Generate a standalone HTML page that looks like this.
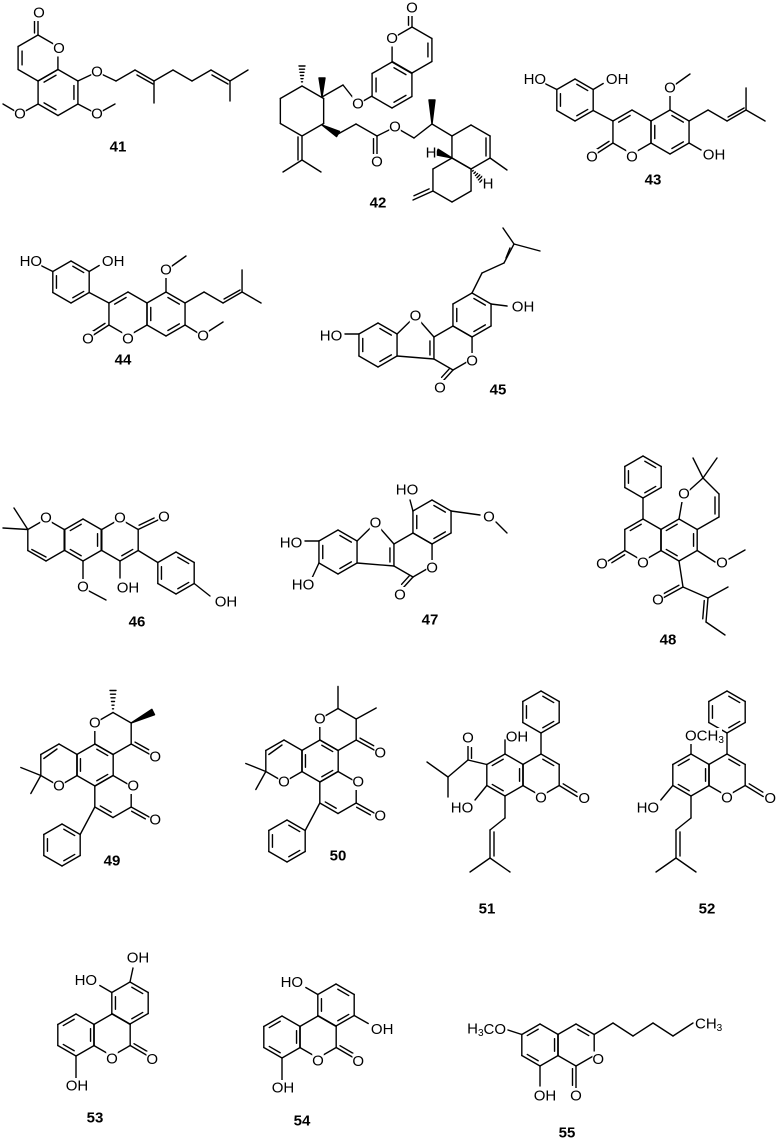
<!DOCTYPE html>
<html><head><meta charset="utf-8">
<style>
html,body{margin:0;padding:0;background:#fff;}
svg{display:block;}
text{font-family:"Liberation Sans",Arial,sans-serif;fill:#000;}
.a{font-size:15px;}
.n{font-size:15px;font-weight:bold;}
</style></head>
<body>
<svg id="g" width="777" height="1141" viewBox="0 0 777 1141" xmlns="http://www.w3.org/2000/svg">
<g id="b" stroke="#000" stroke-width="1.4" fill="none" stroke-linecap="round" stroke-linejoin="round"></g>
<g id="m" fill="#fff" stroke="none"></g>
<g id="t"></g>
</svg>
<script>
var NS="http://www.w3.org/2000/svg",B=document.getElementById('b'),M=document.getElementById('m'),TT=document.getElementById('t');
function el(p,n,a){var e=document.createElementNS(NS,n);for(var k in a)e.setAttribute(k,a[k]);p.appendChild(e);return e;}
function L(x1,y1,x2,y2){el(B,'line',{x1:x1,y1:y1,x2:x2,y2:y2});}
function P(pts){for(var i=0;i<pts.length-1;i++)L(pts[i][0],pts[i][1],pts[i+1][0],pts[i+1][1]);}
function D(x1,y1,x2,y2,side){side=side||1;var dx=x2-x1,dy=y2-y1,l=Math.hypot(dx,dy),nx=-dy/l*3.5*side,ny=dx/l*3.5*side;L(x1,y1,x2,y2);L(x1+nx+dx*0.12,y1+ny+dy*0.12,x2+nx-dx*0.12,y2+ny-dy*0.12);}
function W(x1,y1,x2,y2){var dx=x2-x1,dy=y2-y1,l=Math.hypot(dx,dy);if(!l)return;var nx=-dy/l*3,ny=dx/l*3;el(B,'polygon',{points:x1+','+y1+' '+(x2+nx)+','+(y2+ny)+' '+(x2-nx)+','+(y2-ny),fill:'#000'});}
function HS(x1,y1,x2,y2){var dx=x2-x1,dy=y2-y1,l=Math.hypot(dx,dy),nx=-dy/l,ny=dx/l;for(var i=1;i<=6;i++){var f=i/6,w=3*f;L(x1+dx*f+nx*w,y1+dy*f+ny*w,x1+dx*f-nx*w,y1+dy*f-ny*w);}}
function H(cx,cy,r,d){var v=[],i;for(i=0;i<6;i++){var a=(-90+60*i)*Math.PI/180;v.push([cx+r*Math.cos(a),cy+r*Math.sin(a)]);}
for(i=0;i<6;i++){var p=v[i],q=v[(i+1)%6];L(p[0],p[1],q[0],q[1]);}
(d||[]).forEach(function(i){var p=v[i],q=v[(i+1)%6],f=0.2;L(p[0]+(cx-p[0])*f+(q[0]-p[0])*0.1,p[1]+(cy-p[1])*f+(q[1]-p[1])*0.1,q[0]+(cx-q[0])*f-(q[0]-p[0])*0.1,q[1]+(cy-q[1])*f-(q[1]-p[1])*0.1);});return v;}
function mask(x,y,w,anchor){var x0=anchor=='end'?x-w:anchor=='start'?x:x-w/2;el(M,'rect',{x:x0-1,y:y-8,width:w+2,height:16});}
function T(x,y,s,anchor){anchor=anchor||'middle';mask(x,y,s.length*9.5,anchor);var e=el(TT,'text',{x:x,y:y,'class':'a','text-anchor':anchor,'dominant-baseline':'central'});e.textContent=s;return e;}
function N(x,y,s){var e=el(TT,'text',{x:x,y:y,'class':'n','text-anchor':'middle','dominant-baseline':'central'});e.textContent=s;}
function Sub(x,y,pre,sub,post,anchor){var len=pre.length*10+sub.length*6+post.length*10;mask(x,y,len,anchor);
var e=el(TT,'text',{x:x,y:y,'class':'a','text-anchor':anchor||'middle','dominant-baseline':'central'});
e.appendChild(document.createTextNode(pre));var t=el(e,'tspan',{'font-size':'10','dy':'4'});t.textContent=sub;if(post){var u=el(e,'tspan',{'dy':'-4'});u.textContent=post;}}

/* ===== 41 ===== */
(function(){var A=H(38,58,23,[4]);var Bv=H(58,92.5,23,[1,3,5]);
D(A[0][0],A[0][1],38,18,-1);T(39,13,'O');T(A[1][0]+1,A[1][1]+2,'O');
L(Bv[1][0],Bv[1][1],97,72);T(97,72,'O');
P([[97,72],[116,81],[135,70],[154,81],[173,70],[192,81],[211,70],[230,81],[248,70]]);
L(137,75,153,84);L(154,81,154,103);L(212,75,228,84);L(230,81,230,101);
L(Bv[2][0],Bv[2][1],97,114);T(97,114,'O');L(97,114,115,104);
L(Bv[4][0],Bv[4][1],20,114);T(20,114,'O');L(20,114,3,104);
N(118,147,'41');})();

/* ===== 42 ===== */
(function(){H(302,111,25,[]);
W(322,97,322,78);
HS(302,85,302,66);
L(302,137,302,160);L(298,137,298,160);L(302,160,283,172);L(302,160,321,172);
L(322,97,343,85);L(343,85,358,104);T(358,104,'O');L(358,104,372,96);
var Pv=H(412,50,23,[1]);H(392,85,23,[0,2,4]);
T(Pv[5][0],Pv[5][1],'O');D(Pv[0][0],Pv[0][1],412,12,-1);T(412,8,'O');
W(322,125,338,134);P([[338,134],[356,124],[377,136]]);D(377,136,377,158);T(377,162,'O');
L(377,136,395,127);T(395,127,'O');L(395,127,414,138);L(414,138,432,124);W(432,124,432,100);L(432,124,452,136);
var Rt=H(471,147,22,[]);var Lt=H(452,180,22,[]);
L(486,138,486,156);
L(Rt[2][0],Rt[2][1],507,170);
D(Lt[4][0],Lt[4][1],413,200);
W(452,158,437,152);T(431,153,'H');HS(471,169,482,180);T(488,184,'H');
N(378,203,'42');})();

/* ===== 43/44 coumarin template ===== */
function C43(dx,dy,v){
var R=H(575+dx,100+dy,21,[0,2,4]);var Pp=H(632+dx,132+dy,22,[5]);var Bb=H(670+dx,132+dy,22,[0,2,4]);
L(R[2][0],R[2][1],Pp[5][0],Pp[5][1]);
L(R[5][0],R[5][1],R[5][0]-12,R[5][1]-6);T(R[5][0]-22,R[5][1]-10,'HO');
L(R[1][0],R[1][1],R[1][0]+10,R[1][1]-6);T(R[1][0]+24,R[1][1]-10,'OH');
T(Pp[3][0],Pp[3][1]+3,'O');D(Pp[4][0],Pp[4][1],Pp[4][0]-17,Pp[4][1]+11,1);T(Pp[4][0]-21,Pp[4][1]+14,'O');
L(Bb[0][0],Bb[0][1],Bb[0][0],Bb[0][1]-18);T(Bb[0][0],Bb[0][1]-22,'O');L(Bb[0][0]+6,Bb[0][1]-26,Bb[0][0]+20,Bb[0][1]-36);
var x=Bb[1][0],y=Bb[1][1];P([[x,y],[x+19,y-11],[x+38,y],[x+57,y-11]]);L(x+39,y-4,x+55,y-13);L(x+57,y-11,x+57,y-33);L(x+57,y-11,x+76,y);
if(v==43){L(Bb[2][0],Bb[2][1],Bb[2][0]+12,Bb[2][1]+7);T(Bb[2][0]+25,Bb[2][1]+12,'OH');}
else{L(Bb[2][0],Bb[2][1],Bb[2][0]+13,Bb[2][1]+8);T(Bb[2][0]+18,Bb[2][1]+11,'O');L(Bb[2][0]+24,Bb[2][1]+6,Bb[2][0]+38,Bb[2][1]-3);}
}
C43(0,0,43);N(653,180,'43');
C43(-504,182,44);N(123,360,'44');

/* ===== coumestan template (45/47) ===== */
function CM(dx,dy,v){
var Lb=H(338+dx,552+dy,22,[0,2,4]);
L(Lb[5][0],Lb[5][1],305+dx,541+dy);T(291+dx,543+dy,'HO');
if(v==47){L(Lb[4][0],Lb[4][1],312+dx,578+dy);T(303+dx,585+dy,'HO');}
var La=H(413+dx,555+dy,22,[]);
var ox=(Lb[1][0]+La[5][0])/2,oy=Math.min(Lb[1][1],La[5][1])-18;
P([[Lb[1][0],Lb[1][1]],[ox,oy],[La[5][0],La[5][1]]]);
L(Lb[2][0],Lb[2][1],La[4][0],La[4][1]);
L(La[5][0]-4,La[5][1]+4,La[4][0]-4,La[4][1]-4);
T(ox,oy,'O');
T(La[2][0],La[2][1]+2,'O');D(La[3][0],La[3][1],403+dx,588+dy,1);T(400+dx,595+dy,'O');
var Rr=H(432+dx,522+dy,22,[0,2,4]);
return Rr;}
(function(){var Rr=CM(40,-207,45);
L(Rr[1][0],Rr[1][1],Rr[1][0]+16,Rr[1][1]+2);T(Rr[1][0]+32,Rr[1][1]+3,'OH');
P([[Rr[0][0],Rr[0][1]],[482,273],[504,263],[514,244]]);L(506,258,510,248);L(514,244,540,251);L(514,244,503,228);
N(498,390,'45');})();
(function(){var Rr=CM(0,0,47);
L(Rr[5][0],Rr[5][1],410,500);T(407,490,'HO');
L(Rr[1][0],Rr[1][1],480,515);T(489,517,'O');L(496,522,507,533);
N(430,620,'47');})();

/* ===== 46 ===== */
(function(){var Py=H(46,540,21,[]);var Bz=H(83,540,21,[1,3,5]);var Pn=H(120,540,21,[2]);
T(Py[0][0],Py[0][1]-1,'O');L(Py[5][0],Py[5][1],14,508);L(Py[5][0],Py[5][1],3,528);L(Py[4][0]+4,Py[4][1]-1,Py[3][0],Py[3][1]-4);
T(Pn[0][0],Pn[0][1]-1,'O');D(Pn[1][0],Pn[1][1],158,520,-1);T(164,517,'O');
L(Bz[3][0],Bz[3][1],Bz[3][0],580);T(Bz[3][0],587,'O');L(Bz[3][0]+6,591,106,600);
L(Pn[3][0],Pn[3][1],Pn[3][0],578);T(Pn[3][0]+8,588,'OH');
var Ph=H(176,573,21,[0,2,4]);L(Pn[2][0],Pn[2][1],Ph[5][0],Ph[5][1]);
L(Ph[2][0],Ph[2][1],210,596);T(226,602,'OH');
N(137,622,'46');})();

/* ===== 48 ===== */
(function(){var Pn=H(643,540,21,[5]);var Bz=H(679,540,21,[1,3,5]);
H(643,477,21,[0,2,4]);L(Pn[0][0],Pn[0][1],643,498);
D(Pn[4][0],Pn[4][1],608,561,-1);T(602,564,'O');T(Pn[3][0],Pn[3][1]+2,'O');
P([[Bz[0][0],Bz[0][1]],[683,496],[703,478],[719,494],[719,517],[Bz[1][0],Bz[1][1]]]);L(715,497,715,514);
T(684,494,'O');L(703,478,693,458);L(703,478,717,458);
L(Bz[2][0],Bz[2][1],715,562);T(722,563,'O');L(729,559,745,550);
L(Bz[3][0],Bz[3][1],683,587);D(683,587,663,598,1);T(658,600,'O');L(683,587,708,598);L(708,598,728,587);D(708,598,706,622,1);L(706,622,725,635);
N(668,640,'48');})();

/* ===== 49/50 ===== */
function C49(dx,dy,st){
H(95+dx,765+dy,21,[0,2,4]);
var K=H(113+dx,733.5+dy,21,[]);
var Lc=H(113+dx,796.5+dy,21,[3]);
var Ch=H(59+dx,765+dy,21,[]);
T(K[5][0],K[5][1],'O');
if(st){HS(K[0][0],K[0][1],K[0][0],K[0][1]-22);W(K[1][0],K[1][1],K[1][0]+22,K[1][1]-11);}
else{L(K[0][0],K[0][1],K[0][0],K[0][1]-22);L(K[1][0],K[1][1],K[1][0]+20,K[1][1]-11);}
D(K[2][0],K[2][1],K[2][0]+18,K[2][1]+10,-1);T(K[2][0]+24,K[2][1]+13,'O');
T(Lc[1][0]+2,Lc[1][1],'O');D(Lc[2][0],Lc[2][1],Lc[2][0]+18,Lc[2][1]+10,1);T(Lc[2][0]+24,Lc[2][1]+13,'O');
T(Ch[3][0],Ch[3][1],'O');L(Ch[4][0],Ch[4][1],Ch[4][0]-20,Ch[4][1]-8);L(Ch[4][0],Ch[4][1],Ch[4][0]-10,Ch[4][1]+18);
L(Ch[0][0]-2,Ch[0][1]+5,Ch[5][0]+3,Ch[5][1]+4);
var Ph=H(62+dx,845+dy,21,[0,2,4]);L(Lc[4][0],Lc[4][1],Ph[1][0],Ph[1][1]);
}
C49(0,0,true);N(112,861,'49');
C49(225,-4,false);N(338,856,'50');

/* ===== 51/52 ===== */
function C51(dx,v){
var Bz=H(505+dx,775,21,[1,3,5]);var Pn=H(541+dx,775,21,[0]);
H(541+dx,712,21,[0,2,4]);L(Pn[0][0],Pn[0][1],541+dx,733);
T(Pn[3][0],Pn[3][1]+2,'O');D(Pn[2][0],Pn[2][1],Pn[2][0]+18,Pn[2][1]+11,-1);T(Pn[2][0]+25,Pn[2][1]+13,'O');
L(Bz[3][0],Bz[3][1],Bz[3][0],818);P([[505+dx,818],[490+dx,830],[490+dx,858]]);L(494+dx,832,494+dx,856);L(490+dx,858,470+dx,872);L(490+dx,858,510+dx,872);
if(v==51){L(Bz[0][0],Bz[0][1],505,740);T(517,737,'OH');
L(Bz[5][0],Bz[5][1],468,760);D(468,760,468,746,1);T(468,738,'O');L(468,760,448,777);L(448,777,427,762);L(448,777,448,797);
L(Bz[4][0],Bz[4][1],475,800);T(462,808,'HO');}
else{L(Bz[0][0],Bz[0][1],Bz[0][0],742);Sub(Bz[0][0]-6,736,'OCH','3','','start');
L(Bz[4][0],Bz[4][1],Bz[4][0]-12,800);T(Bz[4][0]-25,808,'HO');}
}
C51(0,51);N(487,909,'51');
C51(186,52);N(707,909,'52');

/* ===== 53/54 ===== */
function C53(dx,dy,v){
var Lc=H(112+dx,1035+dy,21,[]);var Lb=H(76+dx,1035+dy,21,[1,3,5]);var Tp=H(130+dx,1003+dy,21,[0,2,4]);
T(Lc[3][0],Lc[3][1]+3,'O');D(Lc[2][0],Lc[2][1],Lc[2][0]+17,Lc[2][1]+10,-1);T(Lc[2][0]+22,Lc[2][1]+14,'O');
L(Lb[3][0],Lb[3][1],Lb[3][0],Lb[3][1]+22);T(Lb[3][0]+1,Lb[3][1]+30,'OH');
L(Tp[5][0],Tp[5][1],Tp[5][0]-12,Tp[5][1]-7);T(Tp[5][0]-26,Tp[5][1]-12,'HO');
if(v==53){L(Tp[0][0],Tp[0][1],Tp[0][0]+3,Tp[0][1]-14);T(Tp[0][0]+8,Tp[0][1]-24,'OH');}
else{L(Tp[2][0],Tp[2][1],Tp[2][0]+14,Tp[2][1]+8);T(Tp[2][0]+28,Tp[2][1]+14,'OH');}
}
C53(0,0,53);N(95,1118,'53');
C53(206,2,54);N(302,1121,'54');

/* ===== 55 ===== */
(function(){var Bz=H(540,1045,21,[1,3,5]);var Pn=H(576,1045,21,[0]);
T(Pn[2][0]+4,Pn[2][1]+4,'O');D(Pn[3][0],Pn[3][1],576,1088,1);T(576,1096,'O');
L(Bz[3][0],Bz[3][1],540,1086);T(545,1096,'OH');
L(Bz[5][0],Bz[5][1],508,1030);Sub(506,1029,'H','3','CO','end');
P([[Pn[1][0],Pn[1][1]],[613,1023],[633,1036],[653,1023],[673,1036],[693,1023]]);Sub(695,1024,'CH','3','','start');
N(567,1133,'55');})();
</script>
</body></html>
